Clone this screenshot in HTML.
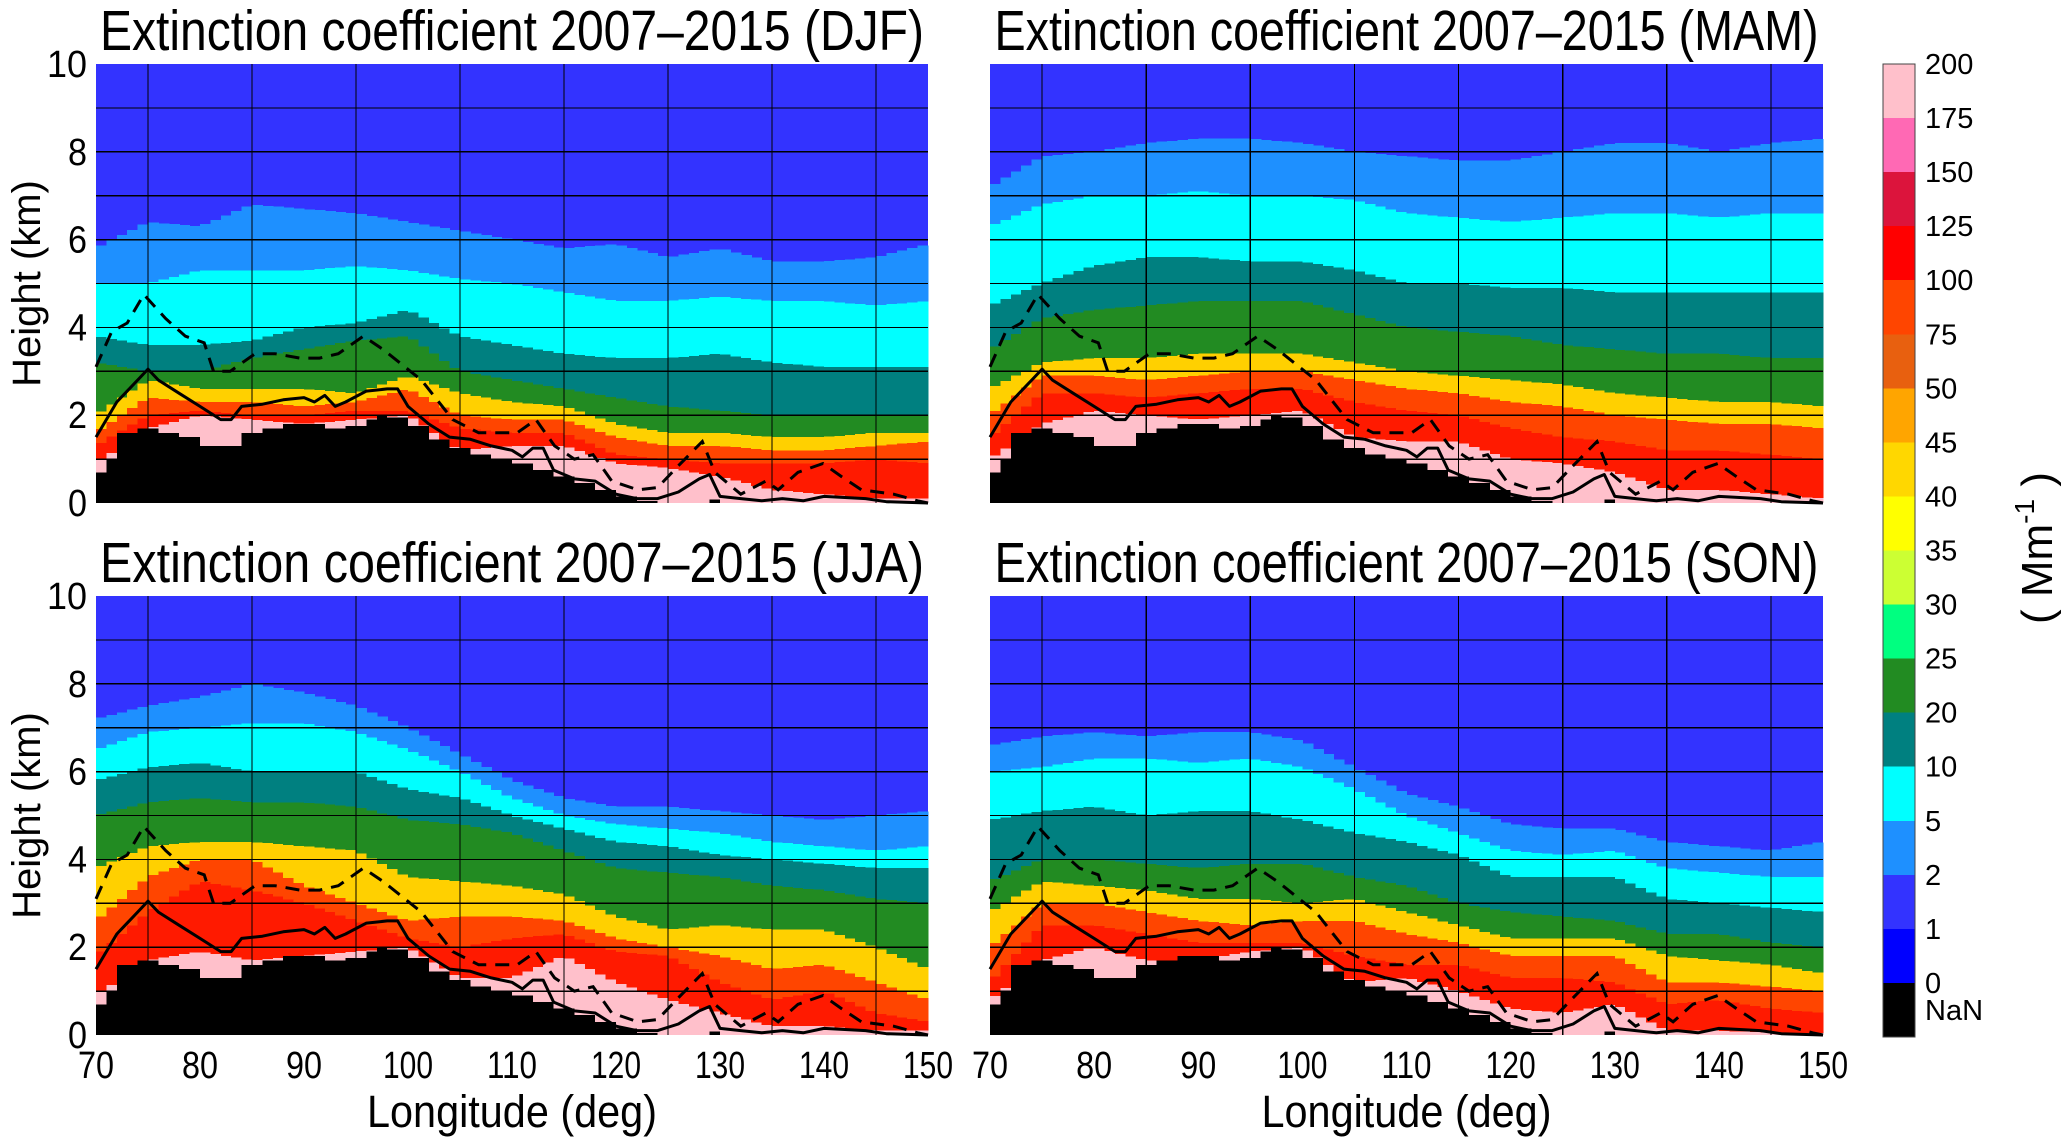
<!DOCTYPE html>
<html><head><meta charset="utf-8">
<style>
html,body{margin:0;padding:0;background:#fff;}
svg{display:block;font-family:"Liberation Sans",sans-serif;}
</style></head>
<body>
<svg id="fig" width="2067" height="1143" viewBox="0 0 2067 1143" xmlns="http://www.w3.org/2000/svg">
<rect width="2067" height="1143" fill="#fff"/>
</svg>
<script>
// ---- data ----
const lonGrid = [70,75,80,85,90,95,100,105,110,115,120,125,130,135,140,145,150];
const levelNames = ['pink','red','orange','yellow','green','teal','cyan','lblue'];
const djfPink   = [0.9,1.7,2.0,1.9,1.8,1.9,2.0,1.2,1.3,1.3,0.9,0.8,0.6,0.3,0.2,0.1,0.1];
const djfRed    = [1.3,2.0,2.1,2.0,2.0,2.1,2.1,1.7,1.6,1.6,1.1,1.0,0.9,0.9,0.9,1.0,0.9];
const djfOrange = [1.6,2.4,2.3,2.3,2.2,2.3,2.6,2.0,1.9,1.9,1.5,1.3,1.3,1.2,1.2,1.3,1.4];
const djfYellow = [2.0,2.8,2.6,2.6,2.6,2.5,2.9,2.5,2.3,2.2,1.8,1.6,1.6,1.5,1.5,1.6,1.6];
const djfGreen  = [3.2,3.0,3.0,3.3,3.5,3.7,3.8,3.0,2.8,2.6,2.4,2.2,2.1,2.0,2.0,2.0,2.0];
const djfTeal   = [3.8,3.6,3.6,3.7,4.0,4.1,4.4,3.8,3.6,3.4,3.3,3.3,3.4,3.2,3.1,3.1,3.1];
const djfCyan   = [5.0,5.0,5.3,5.3,5.3,5.4,5.3,5.1,5.0,4.8,4.6,4.6,4.7,4.6,4.6,4.5,4.6];
const djfLblue  = [5.8,6.4,6.3,6.8,6.7,6.6,6.4,6.2,6.0,5.8,5.9,5.6,5.8,5.5,5.5,5.6,5.9];

const mamPink   = [1.0,1.8,2.1,2.0,1.9,2.0,2.1,1.5,1.4,1.4,1.0,0.9,0.7,0.3,0.3,0.2,0.1];
const mamRed    = [1.5,2.5,2.5,2.4,2.5,2.6,2.6,2.3,2.1,2.0,1.7,1.5,1.4,1.2,1.2,1.1,1.0];
const mamOrange = [2.0,2.9,2.9,2.8,2.9,3.0,3.0,2.8,2.6,2.5,2.3,2.2,2.0,1.9,1.8,1.8,1.7];
const mamYellow = [2.6,3.2,3.3,3.3,3.4,3.4,3.4,3.2,3.0,2.9,2.8,2.7,2.5,2.4,2.3,2.3,2.2];
const mamGreen  = [3.5,4.2,4.4,4.5,4.6,4.6,4.6,4.3,4.0,3.9,3.8,3.6,3.5,3.4,3.4,3.3,3.3];
const mamTeal   = [4.5,5.0,5.4,5.6,5.6,5.5,5.5,5.3,5.0,5.0,4.9,4.9,4.8,4.8,4.8,4.8,4.8];
const mamCyan   = [6.3,6.8,7.0,7.0,7.1,7.0,7.0,6.9,6.6,6.5,6.4,6.5,6.6,6.6,6.5,6.6,6.6];
const mamLblue  = [7.2,7.9,8.0,8.2,8.3,8.3,8.2,8.0,7.9,7.8,7.8,8.0,8.2,8.2,8.0,8.2,8.3];

const jjaPink   = [0.9,1.7,1.9,1.7,1.8,1.9,2.0,1.3,1.3,1.8,1.2,0.8,0.5,0.2,0.2,0.1,0.1];
const jjaRed    = [1.8,2.8,3.5,3.3,3.0,2.6,2.2,2.0,2.2,2.3,1.9,1.8,1.2,0.8,1.0,0.5,0.3];
const jjaOrange = [2.6,3.6,4.0,4.0,3.4,3.0,2.6,2.7,2.7,2.6,2.2,2.0,1.8,1.5,1.6,1.2,0.8];
const jjaYellow = [3.8,4.3,4.4,4.4,4.3,4.2,3.6,3.5,3.4,3.2,2.7,2.4,2.5,2.4,2.4,2.0,1.5];
const jjaGreen  = [5.0,5.3,5.4,5.3,5.3,5.2,4.9,4.8,4.6,4.2,3.8,3.7,3.6,3.4,3.3,3.1,3.0];
const jjaTeal   = [5.8,6.1,6.2,6.0,6.0,6.0,5.6,5.4,5.0,4.7,4.4,4.3,4.1,4.0,3.9,3.8,3.8];
const jjaCyan   = [6.5,6.9,7.0,7.1,7.1,6.9,6.5,6.0,5.4,5.0,4.8,4.7,4.6,4.4,4.3,4.2,4.3];
const jjaLblue  = [7.2,7.5,7.7,8.0,7.8,7.5,7.0,6.4,5.8,5.4,5.2,5.2,5.1,5.0,4.9,5.0,5.1];

const sonPink   = [0.8,1.7,2.0,1.7,1.7,1.9,2.0,1.2,1.3,1.0,0.6,0.5,0.7,0.1,0.1,0.05,0.05];
const sonRed    = [1.2,2.5,2.5,2.3,2.1,2.1,2.1,1.8,1.6,1.6,1.3,1.3,1.2,0.7,0.8,0.6,0.5];
const sonOrange = [2.0,3.0,3.0,2.8,2.6,2.5,2.6,2.6,2.3,2.1,1.8,1.8,1.8,1.2,1.2,1.1,1.0];
const sonYellow = [2.8,3.5,3.4,3.3,3.1,3.1,3.0,3.1,2.8,2.5,2.2,2.2,2.2,1.8,1.7,1.6,1.4];
const sonGreen  = [3.5,4.0,4.0,3.9,3.8,3.9,3.9,3.6,3.4,3.0,2.8,2.7,2.6,2.3,2.3,2.1,2.0];
const sonTeal   = [4.9,5.1,5.2,5.0,5.1,5.1,4.9,4.6,4.4,4.1,3.6,3.6,3.6,3.1,3.0,2.9,2.8];
const sonCyan   = [6.0,6.1,6.3,6.3,6.2,6.3,6.1,5.6,5.0,4.6,4.2,4.1,4.2,3.8,3.7,3.6,3.6];
const sonLblue  = [6.6,6.8,6.9,6.8,6.9,6.9,6.7,6.1,5.5,5.2,4.8,4.7,4.7,4.4,4.3,4.2,4.4];

const terrainLon = [70,71,72,74,76,78,80,82,84,86,88,90,92,94,96,97,98,100,102,104,106,108,110,112,114,116,118,120,122,124,129,130,150];
const terrainH   = [0.7,1.0,1.6,1.7,1.6,1.5,1.3,1.3,1.6,1.7,1.8,1.8,1.7,1.75,1.9,2.0,1.95,1.75,1.45,1.25,1.1,1.0,0.9,0.75,0.6,0.45,0.3,0.15,0.05,0.0,0.08,0.0,0.0];

const solidLon = [70,72,74,75,76,78,80,82,83,84,86,88,90,91,92,93,94,96,98,99,100,102,104,106,108,110,111,112,113,114,116,118,120,122,124,126,128,129,130,132,134,136,138,140,144,146,150];
const solidH   = [1.5,2.3,2.8,3.05,2.8,2.5,2.2,1.9,1.9,2.2,2.25,2.35,2.4,2.3,2.45,2.2,2.3,2.55,2.6,2.6,2.2,1.8,1.5,1.45,1.3,1.2,1.05,1.25,1.25,0.75,0.55,0.5,0.2,0.1,0.1,0.25,0.55,0.65,0.15,0.1,0.05,0.1,0.05,0.15,0.1,0.03,0.0];
const dashLon = [70,71.5,73,74.6,76.7,78.6,80.4,81.3,82.9,85.3,87.2,89.6,91.5,93.3,95.7,97.6,101.3,104.3,106.8,108.6,110.5,112.3,114.1,116,117.8,119.6,122.1,124,125.8,128.3,129.5,132,134.4,135.6,137.5,139.9,141.7,143.6,146.7,149,150];
const dashH   = [3.1,3.9,4.1,4.75,4.2,3.8,3.65,3.0,3.0,3.4,3.4,3.3,3.3,3.4,3.8,3.5,2.8,1.9,1.6,1.6,1.6,1.9,1.3,1.0,1.1,0.5,0.3,0.35,0.8,1.4,0.7,0.2,0.5,0.3,0.7,0.9,0.6,0.3,0.2,0.05,0.0];

const yTicks = [0,2,4,6,8,10];
const xTicks = [70,80,90,100,110,120,130,140,150];
const cbLabels = ['200','175','150','125','100','75','50','45','40','35','30','25','20','10','5','2','1','0'];
const cbColors = ['#ffc0cb','#ff69b4','#dc143c','#ff0000','#ff4500','#e8600f','#ffa500','#ffd700','#ffff00','#ccff33','#00ff80','#228b22','#008080','#00ffff','#1e90ff','#3333ff','#0000ff','#000000'];
const layerColors = ['#ffc0cb','#ff1a00','#ff4500','#ffd000','#228b22','#008080','#00ffff','#1e90ff'];

const panels = [
 {name:'djf', title:'Extinction coefficient 2007\u20132015 (DJF)', x0:96, x1:928, y0:64, y1:503, lv:[djfPink,djfRed,djfOrange,djfYellow,djfGreen,djfTeal,djfCyan,djfLblue], yl:true, xl:false},
 {name:'mam', title:'Extinction coefficient 2007\u20132015 (MAM)', x0:990, x1:1823, y0:64, y1:503, lv:[mamPink,mamRed,mamOrange,mamYellow,mamGreen,mamTeal,mamCyan,mamLblue], yl:false, xl:false},
 {name:'jja', title:'Extinction coefficient 2007\u20132015 (JJA)', x0:96, x1:928, y0:596, y1:1035, lv:[jjaPink,jjaRed,jjaOrange,jjaYellow,jjaGreen,jjaTeal,jjaCyan,jjaLblue], yl:true, xl:true},
 {name:'son', title:'Extinction coefficient 2007\u20132015 (SON)', x0:990, x1:1823, y0:596, y1:1035, lv:[sonPink,sonRed,sonOrange,sonYellow,sonGreen,sonTeal,sonCyan,sonLblue], yl:false, xl:true}
];

const NS = 'http://www.w3.org/2000/svg';
const svg = document.getElementById('fig');
function mk(tag, attrs, parent){
  const e = document.createElementNS(NS, tag);
  for (const k in attrs) e.setAttribute(k, attrs[k]);
  (parent||svg).appendChild(e);
  return e;
}
function interp(xs, ys, x){
  if (x <= xs[0]) return ys[0];
  for (let i=1;i<xs.length;i++){
    if (x <= xs[i]){ const t=(x-xs[i-1])/(xs[i]-xs[i-1]); return ys[i-1]+t*(ys[i]-ys[i-1]); }
  }
  return ys[ys.length-1];
}
function stepTerrain(x){
  let v = terrainH[0];
  for (let i=0;i<terrainLon.length;i++){ if (terrainLon[i] <= x) v = terrainH[i]; }
  return v;
}

panels.forEach(p=>{
  const xS = lon => p.x0 + (lon-70)/80*(p.x1-p.x0);
  const yS = h => p.y1 - h/10*(p.y1-p.y0);
  const g = mk('g', {});
  
  
  const bg = mk('rect', {x:p.x0, y:p.y0, width:p.x1-p.x0, height:p.y1-p.y0, fill:'#3333ff'}, g);
  
  
  const hm = mk('g', {'shape-rendering':'crispEdges'}, g);
  
  
  for (let c=0;c<80;c++){
    const lon = 70.5 + c;
    const xa = xS(70+c), xb = xS(71+c)+0.6;
    const terr = stepTerrain(70+c);
    let prev = terr;
    for (let k=0;k<levelNames.length;k++){
      const top = Math.min(10, Math.max(prev, interp(lonGrid, p.lv[k], lon)));
      if (top > prev){
        const r = mk('rect', {x:xa, y:yS(top), width:xb-xa, height:yS(prev)-yS(top), fill:layerColors[k]}, hm);
        
        
      }
      prev = top;
    }
    if (terr > 0){
      const r = mk('rect', {x:xa, y:yS(terr), width:xb-xa, height:yS(0)-yS(terr), fill:'#000'}, hm);
      
      
    }
  }
  const grid = mk('g', {stroke:'#000', 'stroke-width':1.3, 'shape-rendering':'crispEdges'}, g);
  
  
  for (let h=1;h<10;h++) mk('line', {x1:p.x0, x2:p.x1, y1:yS(h), y2:yS(h)}, grid);
  for (let l=75;l<150;l+=10) mk('line', {x1:xS(l), x2:xS(l), y1:p.y0, y2:p.y1}, grid);
  const sp = solidLon.map((l,i)=>xS(l).toFixed(1)+','+yS(solidH[i]).toFixed(1)).join(' ');
  const sl = mk('polyline', {points:sp, fill:'none', stroke:'#000', 'stroke-width':3, 'stroke-linejoin':'round'}, g);
  
  
  const dp = dashLon.map((l,i)=>xS(l).toFixed(1)+','+yS(dashH[i]).toFixed(1)).join(' ');
  const dl = mk('polyline', {points:dp, fill:'none', stroke:'#000', 'stroke-width':3, 'stroke-dasharray':'14,9'}, g);
  
  
  const t = mk('text', {x:(p.x0+p.x1)/2, y:p.y0-14, 'text-anchor':'middle', 'font-size':57, textLength:824, lengthAdjust:'spacingAndGlyphs', fill:'#000'}, g);
  t.textContent = p.title;
  
  
  if (p.yl){
    yTicks.forEach(v=>{
      const tt = mk('text', {x:87, y:yS(v)+13, 'text-anchor':'end', 'font-size':38, fill:'#000', textLength:(v===10?40:19), lengthAdjust:'spacingAndGlyphs'}, g);
      tt.textContent = v;
      
      
    });
    const yt = mk('text', {x:0, y:0, 'text-anchor':'middle', 'font-size':40, fill:'#000', transform:'translate(40,'+((p.y0+p.y1)/2)+') rotate(-90)'}, g);
    yt.textContent = 'Height (km)';
    
    
  }
  if (p.xl){
    xTicks.forEach(v=>{
      const tt = mk('text', {x:xS(v), y:1078, 'text-anchor':'middle', 'font-size':38, fill:'#000', textLength:(v>=100?50:36), lengthAdjust:'spacingAndGlyphs'}, g);
      tt.textContent = v;
      
      
    });
    const xt = mk('text', {x:(p.x0+p.x1)/2, y:1127, 'text-anchor':'middle', 'font-size':45, fill:'#000', textLength:290, lengthAdjust:'spacingAndGlyphs'}, g);
    xt.textContent = 'Longitude (deg)';
    
    
  }
});

const cbX = 1883, cbW = 32, cbTop = 64, cbBot = 1037;
const segH = (cbBot-cbTop)/cbColors.length;
const cb = mk('g', {'shape-rendering':'crispEdges'});


cbColors.forEach((c,i)=>{
  const r = mk('rect', {x:cbX, y:cbTop+i*segH, width:cbW, height:segH+0.6, fill:c}, cb);
  
  
});
mk('rect', {x:cbX, y:cbTop, width:cbW, height:cbBot-cbTop, fill:'none', stroke:'#444', 'stroke-width':1}, cb);
cbLabels.forEach((l,i)=>{
  const t = mk('text', {x:1925, y:cbTop+i*segH+10, 'font-size':29, fill:'#000'}, cb);
  t.textContent = l;
  
  
});
const nan = mk('text', {x:1925, y:cbTop+17.5*segH+10, 'font-size':29, fill:'#000'}, cb);
nan.textContent = 'NaN';


const unit = mk('text', {x:0, y:0, 'text-anchor':'middle', 'font-size':44, fill:'#000', transform:'translate(2052,548) rotate(-90)'});
unit.innerHTML = '( Mm<tspan dy="-18" font-size="28">-1</tspan><tspan dy="18"> )</tspan>';


</script>
</body></html>
